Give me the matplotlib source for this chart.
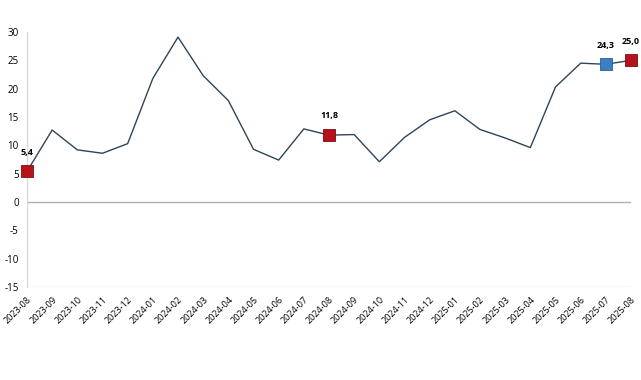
import matplotlib
matplotlib.use("Agg")
import matplotlib.pyplot as plt

months = ["2023-08","2023-09","2023-10","2023-11","2023-12","2024-01","2024-02","2024-03",
          "2024-04","2024-05","2024-06","2024-07","2024-08","2024-09","2024-10","2024-11",
          "2024-12","2025-01","2025-02","2025-03","2025-04","2025-05","2025-06","2025-07","2025-08"]
values = [5.4, 12.7, 9.2, 8.6, 10.3, 21.8, 29.1, 22.3, 17.9, 9.3, 7.4, 12.9, 11.8, 11.9, 7.1,
          11.4, 14.5, 16.1, 12.8, 11.3, 9.6, 20.3, 24.5, 24.3, 25.0]
red_idx = [0, 12, 24]
blue_idx = [23]
yticks = [30, 25, 20, 15, 10, 5, 0, -5, -10, -15]

plt.rcParams['font.family'] = ['Open Sans', 'DejaVu Sans']

fig = plt.figure(figsize=(6.41, 3.8), dpi=100)
ax = fig.add_axes([27/641, 93/380, 604/641, 255/380])
x = list(range(len(months)))
ax.plot(x, values, color="#2e4559", lw=1.0, zorder=3)
ax.axhline(0, color="#b0b0b0", lw=1.0, zorder=1)
ax.axhline(-15, color="#d9d9d9", lw=1.0, zorder=1)

for i in red_idx:
    ax.plot(x[i], values[i], marker="s", ms=8, mfc="#b5121b", mec="#7a0d12", mew=0.6, zorder=4, clip_on=False)
for i in blue_idx:
    ax.plot(x[i], values[i], marker="s", ms=8, mfc="#3a7fc1", mec="#285f94", mew=0.6, zorder=4, clip_on=False)
for i in red_idx + blue_idx:
    ax.text(x[i], values[i] + 2.6, f"{values[i]:.1f}".replace(".", ","), ha="center", va="bottom",
            fontsize=6.5, fontweight="bold", color="#000000")

ax.set_xlim(0, 24)
ax.set_ylim(-15, 30)
ax.set_yticks(yticks)
ax.set_yticklabels([str(v) for v in yticks], fontsize=7)
ax.set_xticks(x)
ax.set_xticklabels(months, rotation=45, ha="right", rotation_mode="anchor", fontsize=6.5)
ax.tick_params(axis="both", length=0, pad=6, colors="#000000")
for s in ["top", "right", "bottom"]:
    ax.spines[s].set_visible(False)
ax.spines["left"].set_color("#d9d9d9")
ax.spines["left"].set_linewidth(1.0)

fig.savefig("out.png", dpi=100, facecolor="white")
